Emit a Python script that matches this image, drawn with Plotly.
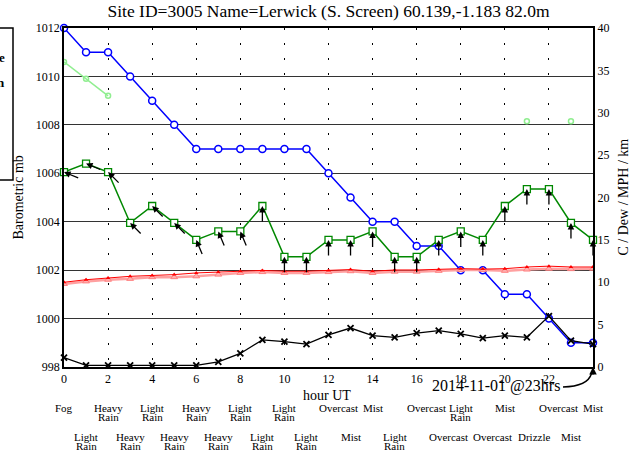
import math
import plotly.graph_objects as go

hours = list(range(25))
pressure = [1012, 1011, 1011, 1010, 1009, 1008, 1007, 1007, 1007, 1007, 1007, 1007,
            1006, 1005, 1004, 1004, 1003, 1003, 1002, 1002, 1001, 1001, 1000, 999, 999]
wind_mph = [23, 24, 23, 17, 19, 17, 15, 16, 16, 19, 13, 13,
            15, 15, 16, 13, 13, 15, 16, 15, 19, 21, 21, 17, 15]
wind_dir = [112.5, 112.5, 135, 135, 135, 135, 157.5, 157.5, 157.5, 180, 180, 180,
            180, 180, 180, 180, 180, 180, 180, 180, 180, 180, 180, 180, 180]
temp_c = [10.0, 10.3, 10.5, 10.7, 10.8, 10.9, 11.1, 11.2, 11.3, 11.4, 11.3, 11.3,
          11.4, 11.5, 11.3, 11.45, 11.45, 11.5, 11.6, 11.55, 11.6, 11.8, 11.9, 11.8, 11.8]
dew_c = [9.8, 10.1, 10.3, 10.4, 10.6, 10.6, 10.7, 10.9, 11.1, 11.2, 11.1, 11.1,
         11.2, 11.3, 11.1, 11.25, 11.25, 11.35, 11.45, 11.45, 11.35, 11.5, 11.6, 11.55, 11.6]
visibility_km = [36, 34, 32] + [None] * 18 + [29, None, 29, None]
lower_series = [1.1, 0.2, 0.2, 0.2, 0.2, 0.2, 0.2, 0.6, 1.6, 3.2, 3.0, 2.7,
                3.8, 4.6, 3.7, 3.5, 4.0, 4.3, 3.9, 3.4, 3.7, 3.5, 6.0, 3.1, 2.7]
weather = ["Fog", "Light Rain", "Heavy Rain", "Heavy Rain", "Light Rain", "Heavy Rain",
           "Heavy Rain", "Heavy Rain", "Light Rain", "Light Rain", "Light Rain", "Light Rain",
           "Overcast", "Mist", "Mist", "Light Rain", "Overcast", "Overcast", "Light Rain",
           "Overcast", "Mist", "Drizzle", "Overcast", "Mist", "Mist"]
x_tick_vals = list(range(0, 24, 2))
left_ticks = list(range(998, 1013, 2))
right_ticks = list(range(0, 41, 5))

title_text = "Site ID=3005 Name=Lerwick (S. Screen) 60.139,-1.183 82.0m"
date_text = "2014-11-01 @23hrs"

SERIF = "Liberation Serif, Times New Roman, serif"

fig = go.Figure()

# visibility (light green)
fig.add_trace(go.Scatter(x=hours, y=visibility_km, yaxis="y2", mode="lines+markers",
                         line=dict(color="#90ee90", width=1.5),
                         marker=dict(symbol="circle-open", size=5, color="#90ee90", line=dict(width=1.5)),
                         connectgaps=False, showlegend=False))
# dew point (pink)
fig.add_trace(go.Scatter(x=hours, y=dew_c, yaxis="y2", mode="lines+markers",
                         line=dict(color="#ffa0a0", width=2.5),
                         marker=dict(symbol="triangle-up", size=6, color="#ffb0b0",
                                     line=dict(color="#ff8080", width=1)),
                         showlegend=False))
# temperature (red)
fig.add_trace(go.Scatter(x=hours, y=temp_c, yaxis="y2", mode="lines+markers",
                         line=dict(color="#ff0000", width=1),
                         marker=dict(symbol="triangle-up", size=4, color="#ff0000"),
                         showlegend=False))
# lower black series
fig.add_trace(go.Scatter(x=hours, y=lower_series, yaxis="y2", mode="lines+markers",
                         line=dict(color="black", width=1.3),
                         marker=dict(symbol="x-thin-open", size=6, color="black", line=dict(width=1.8, color="black")),
                         showlegend=False, cliponaxis=False))
# wind (green)
fig.add_trace(go.Scatter(x=hours, y=wind_mph, yaxis="y2", mode="lines+markers",
                         line=dict(color="#008800", width=1.5),
                         marker=dict(symbol="square", size=7, color="white",
                                     line=dict(color="#008800", width=1.3)),
                         showlegend=False, cliponaxis=False))
# pressure (blue)
fig.add_trace(go.Scatter(x=hours, y=pressure, yaxis="y", mode="lines+markers",
                         line=dict(color="#0000ff", width=1.5),
                         marker=dict(symbol="circle", size=7, color="white",
                                     line=dict(color="#0000ff", width=1.5)),
                         showlegend=False, cliponaxis=False))

annotations = []
# wind direction arrows: head at the point, tail towards where the wind comes from
L = 17
for h, v, d in zip(hours, wind_mph, wind_dir):
    r = math.radians(d)
    annotations.append(dict(x=h, y=v, xref="x", yref="y2", text="", showarrow=True,
                            ax=L * math.sin(r), ay=-L * math.cos(r),
                            arrowhead=2, arrowsize=1, arrowwidth=1.3, arrowcolor="black"))

# weather labels (alternating rows, two-word labels stacked)
for h, w in zip(hours, weather):
    words = w.split(" ")
    base = 408 if h % 2 == 0 else 437
    shift = 10 if w == "Overcast" else (7 if w == "Drizzle" else 0)
    for i, word in enumerate(words):
        ypix = base + 9 * i
        annotations.append(dict(x=h, y=(367 - ypix) / 339, xref="x", yref="paper", text=word,
                                showarrow=False, xanchor="center", yanchor="middle", xshift=shift,
                                font=dict(family=SERIF, size=11, color="black")))

# axis titles
annotations.append(dict(x=0.498, y=(367 - 395) / 339, xref="paper", yref="paper", text="hour UT",
                        showarrow=False, font=dict(family=SERIF, size=14, color="black"),
                        xanchor="center", yanchor="middle"))
annotations.append(dict(x=(18 - 64) / 529, y=0.5, xref="paper", yref="paper", text="Barometric mb",
                        showarrow=False, textangle=-90, font=dict(family=SERIF, size=14, color="black"),
                        xanchor="center", yanchor="middle"))
annotations.append(dict(x=(623 - 64) / 529, y=0.5, xref="paper", yref="paper", text="C / Dew / MPH / km",
                        showarrow=False, textangle=-90, font=dict(family=SERIF, size=14, color="black"),
                        xanchor="center", yanchor="middle"))
# date annotation
annotations.append(dict(x=(496 - 64) / 529, y=(367 - 386) / 339, xref="paper", yref="paper", text=date_text,
                        showarrow=False, font=dict(family=SERIF, size=16, color="black"),
                        xanchor="center", yanchor="middle"))
annotations.append(dict(x=1.0, y=0.0, xref="paper", yref="paper", text="", showarrow=True,
                        ax=0, ay=9, arrowhead=2, arrowsize=1, arrowwidth=1.5, arrowcolor="black"))
# cut-off legend box text
annotations.append(dict(x=(7 - 64) / 529, y=(367 - 57) / 339, xref="paper", yref="paper", text="<b>e</b>",
                        showarrow=False, xanchor="right", yanchor="middle",
                        font=dict(family=SERIF, size=13, color="black")))
annotations.append(dict(x=(7 - 64) / 529, y=(367 - 83) / 339, xref="paper", yref="paper", text="<b>n</b>",
                        showarrow=False, xanchor="right", yanchor="middle",
                        font=dict(family=SERIF, size=13, color="black")))

shapes = [
    dict(type="path", xref="paper", yref="paper",
         path="M 0.9433,-0.059 Q 0.99,-0.057 0.997,-0.02",
         line=dict(color="black", width=1.5)),
    dict(type="rect", xref="paper", yref="paper",
         x0=-0.14, x1=(13 - 64) / 529, y0=(367 - 180) / 339, y1=1.0,
         line=dict(color="black", width=1.5)),
]

fig.update_layout(
    width=637, height=450,
    margin=dict(l=64, r=44, t=28, b=83),
    paper_bgcolor="white", plot_bgcolor="white",
    title=dict(text=title_text, x=0.5, xref="paper", y=1 - 11 / 450, yanchor="middle",
               font=dict(family=SERIF, size=17.5, color="black")),
    font=dict(family=SERIF, size=12, color="black"),
    xaxis=dict(range=[0, 24], tickvals=x_tick_vals, showgrid=True, gridcolor="black",
               griddash="2px,13px", gridwidth=1, zeroline=False, showline=True,
               linecolor="black", linewidth=1.5, mirror=True, ticks="",
               tickfont=dict(family=SERIF, size=12, color="black")),
    yaxis=dict(range=[998, 1012], tickvals=left_ticks, showgrid=True, gridcolor="#333333",
               gridwidth=1, zeroline=False, showline=True, linecolor="black", linewidth=1.5,
               mirror=True, ticks="", tickfont=dict(family=SERIF, size=12, color="black")),
    yaxis2=dict(range=[0, 40], tickvals=right_ticks, overlaying="y", side="right",
                showgrid=False, zeroline=False, showline=True, linecolor="black", linewidth=2,
                ticks="", tickfont=dict(family=SERIF, size=12, color="black")),
    annotations=annotations,
    shapes=shapes,
)

fig.write_html("out.html", config={"displayModeBar": False},
               post_script="document.body.style.margin='0';document.body.style.overflow='hidden';")
